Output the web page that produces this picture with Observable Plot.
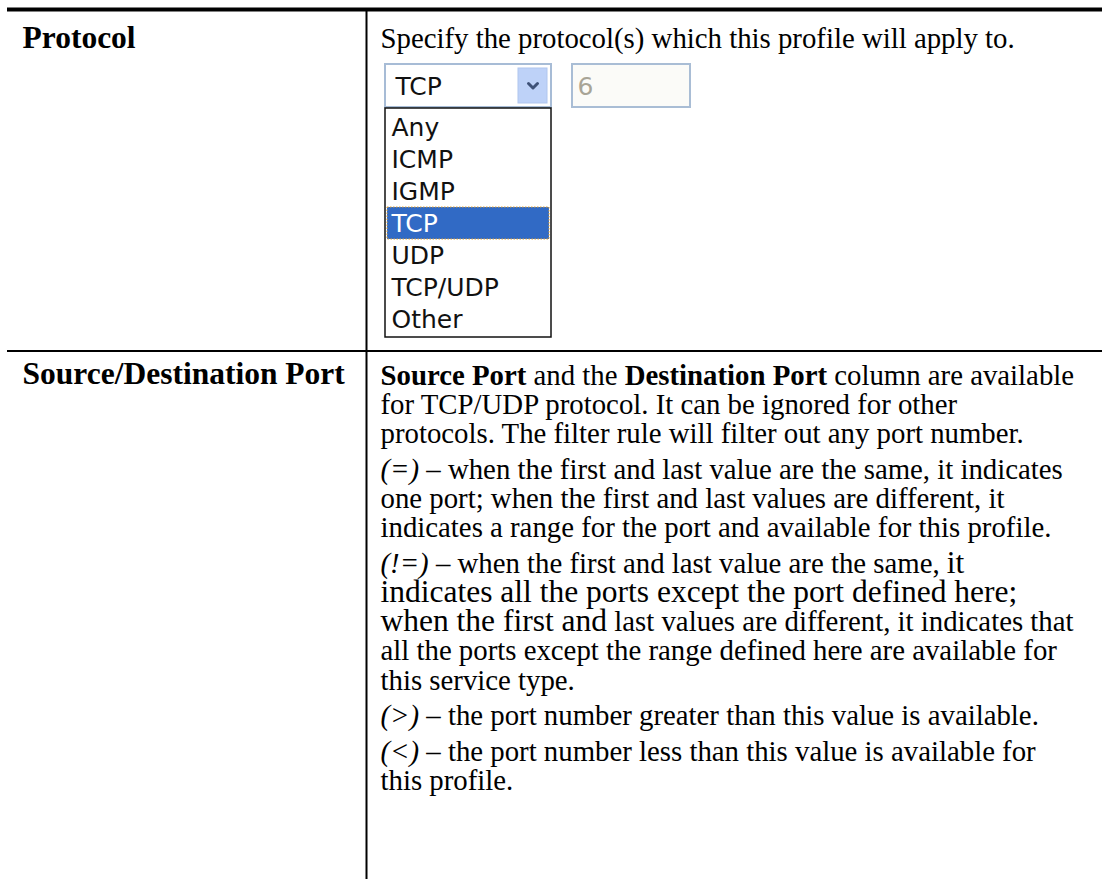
<!DOCTYPE html>
<html><head><meta charset="utf-8">
<script src="https://cdn.jsdelivr.net/npm/d3@7"></script>
<script src="https://cdn.jsdelivr.net/npm/@observablehq/plot@0.6"></script>
<style>body{margin:0;background:#fff}#chart svg{display:block}</style>
</head><body><div id="chart"></div>
<script>
// ---------- content ----------
const rowLabels = ["Protocol", "Source/Destination Port"];
const protocolIntro = "Specify the protocol(s) which this profile will apply to.";
const protocolOptions = ["Any", "ICMP", "IGMP", "TCP", "UDP", "TCP/UDP", "Other"];
const selectedProtocol = "TCP";
const protocolNumber = "6";
// markup: **bold**, _italic_, ^larger^
const portParagraphs = [
  ["**Source Port** and the **Destination Port** column are available",
   "for TCP/UDP protocol. It can be ignored for other",
   "protocols. The filter rule will filter out any port number."],
  ["_(=)_ – when the first and last value are the same, it indicates",
   "one port; when the first and last values are different, it",
   "indicates a range for the port and available for this profile."],
  ["_(!=)_ – when the first and last value are the same, ^it^",
   "^indicates all the ports except the port defined here;^",
   "^when the first and^ last values are different, it indicates that",
   "all the ports except the range defined here are available for",
   "this service type."],
  ["_(>)_ – the port number greater than this value is available."],
  ["_(<)_ – the port number less than this value is available for",
   "this profile."]
];

// ---------- layout ----------
const W = 1102, H = 879;
const SERIF = "Liberation Serif", SANS = "DejaVu Sans";
const FS = 28.8, FS_BIG = 31.5, FS_LABEL = 31.5, LINE = 29.2, PARA = 6.5;
const tableLeft = 7, colX = 366, rowSepY = 350.5;
const labelX = 22, cellX = 380;
const row1Base = 47, row2Base = 384;

const ctx = document.createElement("canvas").getContext("2d");
function measure(t, weight, style, size) {
  ctx.font = `${style} ${weight} ${size}px "${SERIF}"`;
  return ctx.measureText(t).width;
}
function parseLine(line, size0) {
  const parts = line.split(/(\*\*[^*]+\*\*|_[^_]+_|\^[^^]+\^)/).filter(s => s.length);
  return parts.map(p => {
    if (p.startsWith("**")) return {t: p.slice(2, -2), weight: "bold", style: "normal", size: size0};
    if (p.startsWith("_")) return {t: p.slice(1, -1), weight: "normal", style: "italic", size: size0};
    if (p.startsWith("^")) return {t: p.slice(1, -1), weight: "normal", style: "normal", size: FS_BIG};
    return {t: p, weight: "normal", style: "normal", size: size0};
  });
}
const segs = [];
function layoutLine(line, x0, base, size0 = FS) {
  let x = x0;
  for (const s of parseLine(line, size0)) {
    segs.push({...s, x, y: base});
    x += measure(s.t, s.weight, s.style, s.size);
  }
}
// row labels
rowLabels.forEach((l, i) => layoutLine(`**${l}**`, labelX, i === 0 ? row1Base : row2Base - 1, FS_LABEL));
layoutLine(protocolIntro, cellX, row1Base);
let base = row2Base;
portParagraphs.forEach((para) => {
  para.forEach((line) => { layoutLine(line, cellX, base); base += LINE; });
  base += PARA;
});

// widgets
const sel = {x1: 385, x2: 551, y1: 64, y2: 107};
const btn = {x1: 518, x2: 547, y1: 68, y2: 103};
const numBox = {x1: 572, x2: 690, y1: 64, y2: 107};
const list = {x1: 385, x2: 551, y1: 108, y2: 337};
const itemTop = 111, itemH = 32;
const SFS = 25;
const items = protocolOptions.map((o, i) => ({
  t: o, y1: itemTop + i * itemH, y2: itemTop + (i + 1) * itemH,
  sel: o === selectedProtocol
}));
const selItem = items.find(d => d.sel);
const cx = (btn.x1 + btn.x2) / 2, cy = (btn.y1 + btn.y2) / 2;
const chevron = [{x: cx - 4.5, y: cy - 2.5}, {x: cx, y: cy + 2}, {x: cx + 4.5, y: cy - 2.5}];

const rules = [
  {x1: tableLeft, x2: W, y: 9, w: 4},
  {x1: tableLeft, x2: W, y: rowSepY, w: 2}
];

const bySty = (w, s) => segs.filter(d => d.weight === w && d.style === s);

const chart = Plot.plot({
  width: W, height: H, margin: 0,
  x: {domain: [0, W], range: [0, W], axis: null},
  y: {domain: [0, H], range: [0, H], axis: null},
  style: {background: "white"},
  marks: [
    Plot.ruleY(rules, {y: "y", x1: "x1", x2: "x2", stroke: "black", strokeWidth: d => d.w}),
    Plot.ruleX([{x: colX, y1: 11, y2: H}], {x: "x", y1: "y1", y2: "y2", stroke: "black", strokeWidth: 2}),
    // select box
    Plot.rect([sel], {x1: "x1", x2: "x2", y1: "y1", y2: "y2", fill: "white", stroke: "#a7bcd6", strokeWidth: 2}),
    Plot.rect([btn], {x1: "x1", x2: "x2", y1: "y1", y2: "y2", fill: "#bed2f8", stroke: "#b0c6ee", strokeWidth: 1}),
    Plot.line(chevron, {x: "x", y: "y", stroke: "#3f5278", strokeWidth: 3}),
    Plot.text([selectedProtocol], {x: 395, y: 86, text: d => d, textAnchor: "start", lineAnchor: "middle", fontFamily: SANS, fontSize: SFS, fill: "#111"}),
    // number box
    Plot.rect([numBox], {x1: "x1", x2: "x2", y1: "y1", y2: "y2", fill: "#fbfbf8", stroke: "#a9bdd5", strokeWidth: 2}),
    Plot.text([protocolNumber], {x: 577, y: 86, text: d => d, textAnchor: "start", lineAnchor: "middle", fontFamily: SANS, fontSize: SFS, fill: "#a8a496"}),
    // list
    Plot.rect([list], {x1: "x1", x2: "x2", y1: "y1", y2: "y2", fill: "white", stroke: "#111", strokeWidth: 1.5}),
    Plot.rect([selItem], {x1: list.x1 + 2, x2: list.x2 - 2, y1: "y1", y2: "y2", fill: "#316ac5", stroke: "#e0a030", strokeWidth: 1, strokeDasharray: "1.5,1.5"}),
    Plot.text(items, {x: list.x1 + 6, y: d => (d.y1 + d.y2) / 2, text: "t", textAnchor: "start", lineAnchor: "middle", fontFamily: SANS, fontSize: SFS, fill: d => d.sel ? "white" : "#111"}),
    // document text
    Plot.text(bySty("normal", "normal"), {x: "x", y: "y", text: "t", fontSize: "size", textAnchor: "start", lineAnchor: "bottom", fontFamily: SERIF, fill: "black"}),
    Plot.text(bySty("bold", "normal"), {x: "x", y: "y", text: "t", fontSize: "size", textAnchor: "start", lineAnchor: "bottom", fontFamily: SERIF, fontWeight: "bold", fill: "black"}),
    Plot.text(bySty("normal", "italic"), {x: "x", y: "y", text: "t", fontSize: "size", textAnchor: "start", lineAnchor: "bottom", fontFamily: SERIF, fontStyle: "italic", fill: "black"})
  ]
});
document.getElementById("chart").append(chart);
</script>
</body></html>
